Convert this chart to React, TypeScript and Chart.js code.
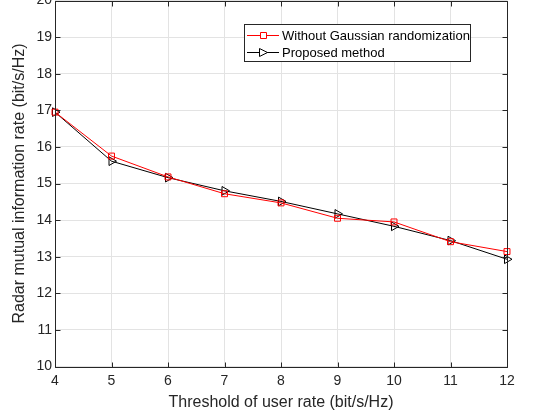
import React, { useEffect, useRef } from "react";
import { Chart, registerables } from "chart.js";

Chart.register(...registerables);

const thresholds = [4, 5, 6, 7, 8, 9, 10, 11, 12];
const withoutGaussian = [16.95, 15.75, 15.18, 14.72, 14.47, 14.05, 13.95, 13.41, 13.14];
const proposed = [16.95, 15.61, 15.16, 14.8, 14.51, 14.17, 13.83, 13.44, 12.93];
const seriesLabels = ["Without Gaussian randomization", "Proposed method"];
const xTitle = "Threshold of user rate (bit/s/Hz)";
const yTitle = "Radar mutual information rate (bit/s/Hz)";

const AXIS = "#262626";
const GRID = "#e3e3e3";
const FONT = "Arial, 'Liberation Sans', Helvetica, sans-serif";

const boxPlugin = {
  id: "matlabBox",
  afterDraw(chart: any) {
    const { ctx, chartArea: a, scales } = chart;
    const tl = 5;
    ctx.save();
    ctx.strokeStyle = AXIS;
    ctx.lineWidth = 1;
    ctx.beginPath();
    const L = Math.round(a.left) + 0.5, R = Math.round(a.right) + 0.5;
    const T = Math.round(a.top) + 0.5, B = Math.round(a.bottom) + 0.5;
    ctx.rect(L, T, R - L, B - T);
    scales.x.ticks.forEach((t: any) => {
      const px = Math.round(scales.x.getPixelForValue(t.value)) + 0.5;
      ctx.moveTo(px, B); ctx.lineTo(px, B - tl);
      ctx.moveTo(px, T); ctx.lineTo(px, T + tl);
    });
    scales.y.ticks.forEach((t: any) => {
      const py = Math.round(scales.y.getPixelForValue(t.value)) + 0.5;
      ctx.moveTo(L, py); ctx.lineTo(L + tl, py);
      ctx.moveTo(R, py); ctx.lineTo(R - tl, py);
    });
    ctx.stroke();

    // legend
    const lx = 244.5, ly = 24.5, lw = 226, lh = 37;
    ctx.fillStyle = "#ffffff";
    ctx.fillRect(lx, ly, lw, lh);
    ctx.strokeStyle = AXIS;
    ctx.strokeRect(lx, ly, lw, lh);
    const rows = [35, 52];
    chart.data.datasets.forEach((ds: any, i: number) => {
      const y = rows[i] + 0.5;
      ctx.strokeStyle = ds.borderColor;
      ctx.lineWidth = 1;
      ctx.beginPath();
      ctx.moveTo(247, y);
      ctx.lineTo(279, y);
      ctx.stroke();
      ctx.beginPath();
      if (ds.pointStyle === "rect") {
        ctx.rect(260.5, y - 3, 6, 6);
      } else {
        ctx.moveTo(259.5, y - 4);
        ctx.lineTo(267.5, y);
        ctx.lineTo(259.5, y + 4);
        ctx.closePath();
      }
      ctx.fillStyle = "#ffffff";
      ctx.fill();
      ctx.stroke();
      ctx.fillStyle = "#000000";
      ctx.font = `13px ${FONT}`;
      ctx.textBaseline = "middle";
      ctx.textAlign = "left";
      ctx.fillText(ds.label, 282, rows[i] + 1);
    });
    ctx.restore();
  },
};

export default function App() {
  const ref = useRef<HTMLCanvasElement | null>(null);
  useEffect(() => {
    if (!ref.current) return;
    const chart = new Chart(ref.current, {
      type: "line",
      data: {
        datasets: [
          {
            label: seriesLabels[0],
            data: thresholds.map((x, i) => ({ x, y: withoutGaussian[i] })),
            borderColor: "#ff0000",
            backgroundColor: "#ffffff",
            borderWidth: 1,
            pointStyle: "rect",
            pointRadius: 4.2,
            pointBorderWidth: 1,
            pointBorderColor: "#ff0000",
            pointBackgroundColor: "rgba(0,0,0,0)",
            tension: 0,
            clip: 8,
          },
          {
            label: seriesLabels[1],
            data: thresholds.map((x, i) => ({ x, y: proposed[i] })),
            borderColor: "#000000",
            backgroundColor: "#ffffff",
            borderWidth: 1,
            pointStyle: "triangle",
            pointRotation: 90,
            pointRadius: 5,
            pointBorderWidth: 1,
            pointBorderColor: "#000000",
            pointBackgroundColor: "rgba(0,0,0,0)",
            tension: 0,
            clip: 8,
          },
        ],
      },
      options: {
        responsive: false,
        animation: false,
        devicePixelRatio: 1,
        layout: { autoPadding: false, padding: { top: 0.5, right: 29, bottom: 0, left: 0 } },
        plugins: { legend: { display: false }, tooltip: { enabled: false } },
        scales: {
          x: {
            type: "linear",
            min: 4,
            max: 12,
            ticks: {
              stepSize: 1,
              color: AXIS,
              font: { family: FONT, size: 14 },
              padding: 6,
              maxRotation: 0,
            },
            grid: { color: GRID, drawTicks: false, lineWidth: 1 },
            border: { display: false },
            title: {
              display: true,
              text: xTitle,
              color: AXIS,
              font: { family: FONT, size: 16 },
              padding: { top: 0, bottom: 6 },
            },
            afterFit(scale: any) {
              scale.height = 51.5;
              scale.paddingLeft = 0;
              scale.paddingRight = 0;
            },
          },
          y: {
            type: "linear",
            min: 10,
            max: 20,
            ticks: {
              stepSize: 1,
              color: AXIS,
              font: { family: FONT, size: 14 },
              padding: 3,
            },
            grid: { color: GRID, drawTicks: false, lineWidth: 1 },
            border: { display: false },
            title: {
              display: true,
              text: yTitle,
              color: AXIS,
              font: { family: FONT, size: 16 },
              padding: { top: 10, bottom: 0 },
            },
            afterFit(scale: any) {
              scale.width = 55;
              scale.paddingTop = 0;
              scale.paddingBottom = 0;
            },
          },
        },
      },
      plugins: [boxPlugin],
    });
    return () => chart.destroy();
  }, []);
  return (
    <div style={{ position: "fixed", left: 0, top: 0, width: 536, height: 418, background: "#ffffff" }}>
      <canvas ref={ref} width={536} height={418} style={{ display: "block" }} />
    </div>
  );
}
